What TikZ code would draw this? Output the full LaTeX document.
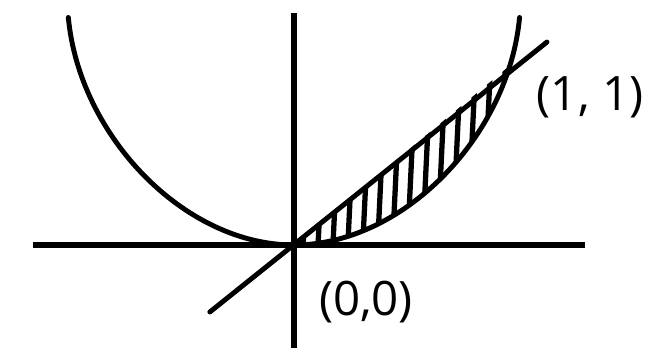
\documentclass[tikz,border=0pt]{standalone}
\usepackage{fontspec}
\setmainfont{Open Sans}
\usepackage{tikz}
\tikzset{
	axisline/.style={line width=3pt},
	graphline/.style={line width=2.8pt, line cap=round, line join=round},
	hatchline/.style={line width=3pt},
	ptlabel/.style={font=\fontsize{27}{30}\selectfont, inner sep=0pt}
}

\begin{document}
\begin{tikzpicture}[x=4.38cm, y=3.64cm]
		\useasboundingbox (-1.342,-0.610) rectangle (1.662,1.346);
		\coordinate (O) at (0,0);
		\coordinate (P) at (1,1);
		\coordinate (cL) at (-1.03,1.25);
		\coordinate (cR) at (1.03,1.25);
		\coordinate (xL) at (-1.19,0);
		\coordinate (xR) at (1.33,0);
		\coordinate (yB) at (0,-0.566);
		\coordinate (yT) at (0,1.275);
		\coordinate (lnA) at (-0.384,-0.368);
		\coordinate (lnB) at (1.155,1.115);
		\begin{scope}
			\clip (O) -- (1.3,1.3) -- (1.3,0) -- cycle;
			\clip (O) .. controls (0.5,0) and (0.98,0.6) .. (cR) -- (0,1.3) -- cycle;
			\foreach \x in {0.04,0.108,...,1.0}
				\draw[hatchline] (\x,-0.05) -- (\x+0.05,1.2);
		\end{scope}
		\draw[axisline] (xL) -- (xR);
		\draw[axisline] (yB) -- (yT);
		\draw[graphline] (lnA) -- (lnB);
		\draw[graphline] (cL) .. controls (-0.98,0.6) and (-0.5,0) .. (O) .. controls (0.5,0) and (0.98,0.6) .. (cR);
		\node[ptlabel] (labP) at (1.352,0.813) {(1, 1)};
		\node[ptlabel] (labO) at (0.329,-0.313) {(0,0)};
	\end{tikzpicture}
\end{document}
